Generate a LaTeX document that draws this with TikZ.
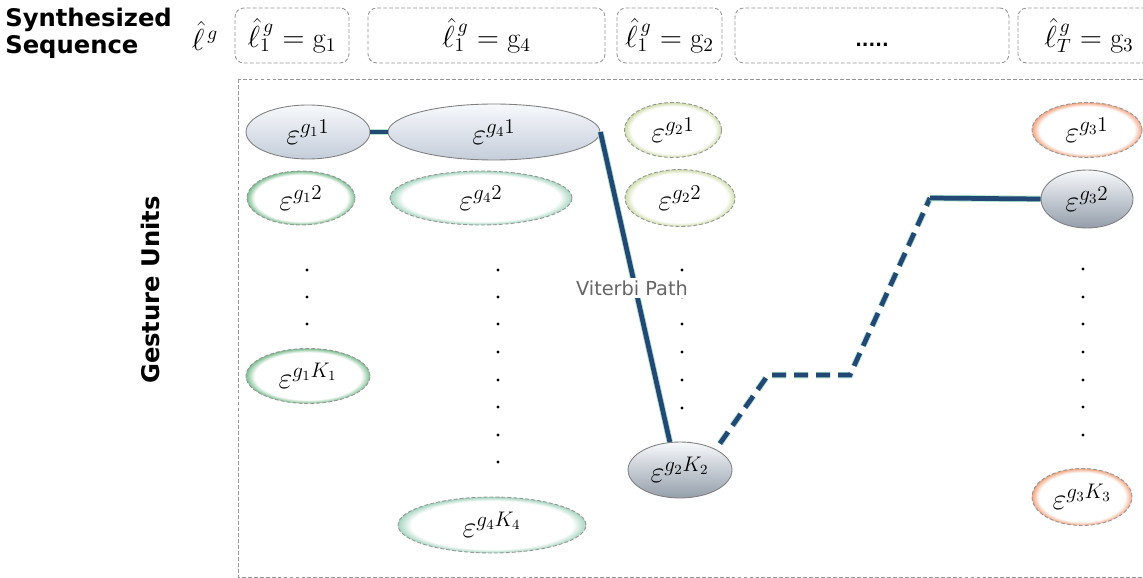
\documentclass[tikz,border=0pt]{standalone}
\usepackage{fontspec}
\setsansfont{DejaVu Sans}
\usetikzlibrary{shapes.geometric, positioning}

\definecolor{pathblue}{RGB}{36,72,118}
\definecolor{pathglow}{RGB}{175,228,205}
\definecolor{boxgray}{RGB}{150,150,150}
\definecolor{greenA}{RGB}{125,190,145}
\definecolor{greenB}{RGB}{165,212,192}
\definecolor{oliveC}{RGB}{208,220,172}
\definecolor{orangeD}{RGB}{242,165,130}
\definecolor{filltop}{RGB}{247,249,252}
\definecolor{fillbot}{RGB}{196,205,218}
\definecolor{darkbot}{RGB}{148,158,170}

% soft coloured rim inside the unit ellipses
\pgfdeclareradialshading{glowA}{\pgfpoint{0bp}{0bp}}{color(0bp)=(white); color(21.5bp)=(white); color(25bp)=(greenA); color(50bp)=(greenA)}
\pgfdeclareradialshading{glowB}{\pgfpoint{0bp}{0bp}}{color(0bp)=(white); color(21.5bp)=(white); color(25bp)=(greenB); color(50bp)=(greenB)}
\pgfdeclareradialshading{glowC}{\pgfpoint{0bp}{0bp}}{color(0bp)=(white); color(21.5bp)=(white); color(25bp)=(oliveC); color(50bp)=(oliveC)}
\pgfdeclareradialshading{glowD}{\pgfpoint{0bp}{0bp}}{color(0bp)=(white); color(21.5bp)=(white); color(25bp)=(orangeD); color(50bp)=(orangeD)}

\tikzset{
  frame/.style={draw=boxgray, dash pattern=on 2.2pt off 1.2pt, line width=0.5pt},
  seqbox/.style={frame, rounded corners=5pt, minimum height=1.1cm, font=\fontsize{16}{18}\selectfont},
  unit/.style={ellipse, inner sep=0pt, font=\fontsize{17}{20}\selectfont},
  glow/.style={unit, frame, shade, shading=#1},
  picked/.style={unit, draw=gray, line width=0.5pt, top color=filltop, bottom color=#1},
  viterbi/.style={draw=pathblue, line width=2.7pt, preaction={draw=pathglow, line width=3.7pt, #1}, #1},
  viterbi/.default={solid},
  heading/.style={font=\sffamily\bfseries\fontsize{13.8}{15.5}\selectfont}
}

\begin{document}
\begin{tikzpicture}[x=0.02cm, y=-0.02cm]
\useasboundingbox (0,0) rectangle (1143,578);
\clip (0,0) rectangle (1143,578);

% synthesized sequence row
\node[heading, anchor=west, align=left, inner sep=0pt] (title) at (5,33) {Synthesized\\Sequence};
\node[font=\fontsize{16}{18}\selectfont] (lhat) at (205,36) {$\hat{\ell}^{\,g}$};

\node[seqbox, minimum width=2.28cm] (s1) at (292,35.5) {$\hat{\ell}_1^{\,g}=\mathrm{g}_1$};
\node[seqbox, minimum width=4.74cm] (s2) at (486.5,35.5) {$\hat{\ell}_1^{\,g}=\mathrm{g}_4$};
\node[seqbox, minimum width=2.10cm] (s3) at (669.5,35.5) {$\hat{\ell}_1^{\,g}=\mathrm{g}_2$};
\node[seqbox, minimum width=5.48cm, text height=0.45cm, text depth=0pt] (s4) at (872,35.5) {\sffamily\bfseries\fontsize{10}{12}\selectfont .....};
\node[seqbox, minimum width=2.84cm] (s5) at (1089,35.5) {$\hat{\ell}_T^{\,g}=\mathrm{g}_3$};

% gesture units
\draw[frame] (238,79) rectangle (1160,577);
\node[heading, rotate=90] (gu) at (150,290) {Gesture Units};

\node[picked=fillbot, minimum width=2.48cm, minimum height=1.08cm] (u11) at (308,132) {$\varepsilon^{g_1 1}$};
\node[glow=glowA, minimum width=2.16cm, minimum height=1.08cm] (u12) at (301,198) {$\varepsilon^{g_1 2}$};
\node[glow=glowA, minimum width=2.48cm, minimum height=1.10cm] (u1K) at (308,376) {$\varepsilon^{g_1 K_1}$};

\node[picked=fillbot, minimum width=4.24cm, minimum height=1.12cm] (u41) at (494,132) {$\varepsilon^{g_4 1}$};
\node[glow=glowB, minimum width=3.64cm, minimum height=1.08cm] (u42) at (481,198) {$\varepsilon^{g_4 2}$};
\node[glow=glowB, minimum width=3.76cm, minimum height=1.12cm] (u4K) at (492,525) {$\varepsilon^{g_4 K_4}$};

\node[glow=glowC, minimum width=1.94cm, minimum height=1.10cm] (u21) at (673,130) {$\varepsilon^{g_2 1}$};
\node[glow=glowC, minimum width=2.20cm, minimum height=1.14cm] (u22) at (680,198) {$\varepsilon^{g_2 2}$};
\node[picked=darkbot, minimum width=2.08cm, minimum height=1.12cm] (u2K) at (680,470) {$\varepsilon^{g_2 K_2}$};

\node[glow=glowD, minimum width=2.20cm, minimum height=1.10cm] (u31) at (1087,130) {$\varepsilon^{g_3 1}$};
\node[picked=darkbot, minimum width=1.84cm, minimum height=1.16cm] (u32) at (1087,199) {$\varepsilon^{g_3 2}$};
\node[glow=glowD, minimum width=2.00cm, minimum height=1.14cm] (u3K) at (1082,497) {$\varepsilon^{g_3 K_3}$};

% vertical dots between the units
\foreach \y in {270,297,324} \fill (307,\y) circle (0.9pt);
\foreach \y in {270,297,324,352,380,407,435,462} \fill (498,\y) circle (0.9pt);
\foreach \y in {270,297,324,352,380,408} \fill (682,\y) circle (0.9pt);
\foreach \y in {269,297,324,352,380,407,435} \fill (1083,\y) circle (0.9pt);

% viterbi path
\coordinate (p1) at (768,375);
\coordinate (p2) at (850,375);
\coordinate (p3) at (930,198);
\draw[viterbi] (u11.east) -- (u41.west);
\draw[viterbi] (u41.east) -- (u2K.110);
\draw[viterbi={dash pattern=on 8pt off 4.5pt}, shorten <=4pt] (u2K.30) -- (p1) -- (p2) -- (p3);
\draw[viterbi] (p3) -- (u32.west);

\node[fill=white, inner sep=1.5pt, text=black!60, font=\sffamily\fontsize{11}{13}\selectfont] (vp) at (632,288) {Viterbi Path};
\end{tikzpicture}
\end{document}
